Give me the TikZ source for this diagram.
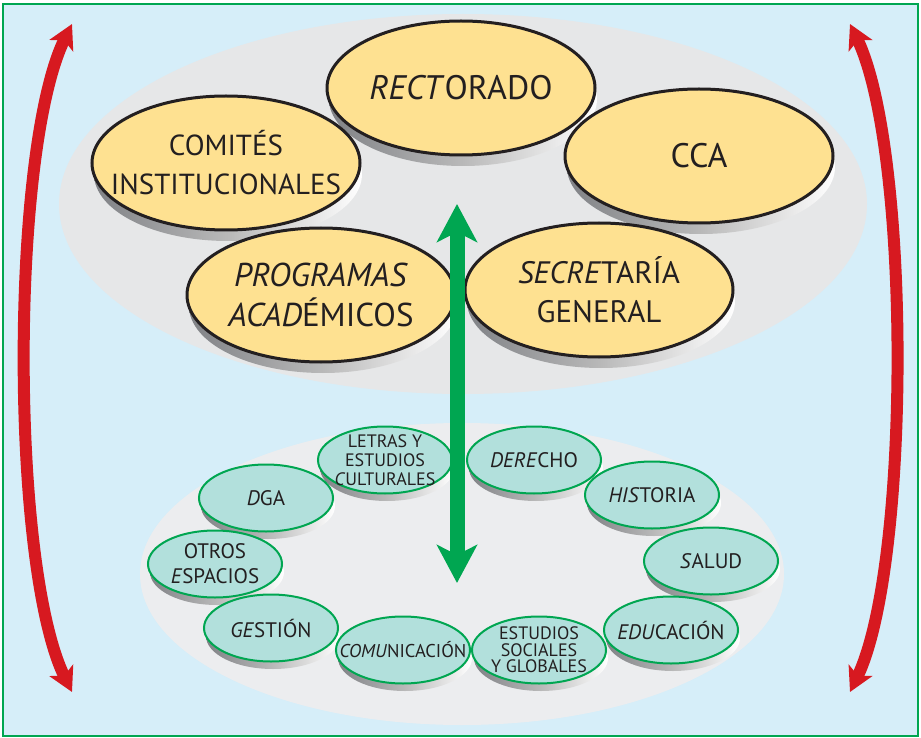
\documentclass[tikz,border=0pt]{standalone}
\usepackage{fontspec}
\setmainfont{PT Sans}
\usetikzlibrary{shapes.geometric,arrows.meta}
\definecolor{bgblue}{RGB}{214,238,249}
\definecolor{graybig}{RGB}{230,231,232}
\definecolor{graysmall}{RGB}{236,237,239}
\definecolor{yellowfill}{RGB}{254,225,145}
\definecolor{tealfill}{RGB}{178,224,220}
\definecolor{greenline}{RGB}{0,166,81}
\definecolor{redarrow}{RGB}{215,25,32}
\definecolor{inkdark}{RGB}{35,31,32}
\definecolor{shadowdark}{RGB}{128,130,134}
\tikzset{
  bigoval/.style={ellipse, draw=inkdark, line width=3pt, fill=yellowfill,
    minimum width=268pt, minimum height=134pt, inner xsep=-80pt, inner ysep=-50pt, align=center,
    text=inkdark, font=\fontsize{32}{39}\selectfont},
  smalloval/.style={ellipse, draw=greenline, line width=2pt, fill=tealfill,
    minimum width=134pt, minimum height=67pt, inner xsep=-40pt, inner ysep=-25pt, align=center,
    text=inkdark, font=\fontsize{21}{21}\selectfont},
  rim/.style={left color=shadowdark, right color=white, middle color=gray!55},
  redarc/.style={draw=redarrow, line width=12pt,
    {Stealth[length=24pt,width=26pt,inset=6pt]}-{Stealth[length=24pt,width=26pt,inset=6pt]}},
  greenarrow/.style={draw=greenline, line width=15pt,
    {Stealth[length=38pt,width=40pt,inset=10pt]}-{Stealth[length=38pt,width=40pt,inset=10pt]}}
}
\begin{document}
\begin{tikzpicture}[x=1pt,y=-1pt]
\useasboundingbox (0,0) rectangle (921,738);
% frame
\path[fill=bgblue, draw=greenline, line width=2pt] (3,4) rectangle (918,736);
% background ovals
\fill[graybig] (463,204) ellipse [x radius=404pt, y radius=190pt];
\fill[graysmall] (462,574) ellipse [x radius=322pt, y radius=151pt];
% centres
\coordinate (cRec) at (461,88);
\coordinate (cCom) at (226,163);
\coordinate (cCca) at (699,156);
\coordinate (cPro) at (321,295);
\coordinate (cSec) at (599,290);
% big rims
\foreach \c in {cRec,cCom,cCca,cPro,cSec}{
  \shade[rim] ([xshift=2pt,yshift=-11pt]\c) ellipse [x radius=134pt, y radius=67pt];
}
\node[bigoval, font=\fontsize{34}{39}\selectfont] (rec) at (cRec) {\textit{RECT}ORADO};
\node[bigoval, font=\fontsize{29}{39}\selectfont] (com) at (cCom) {COMITÉS\\INSTITUCIONALES};
\node[bigoval, font=\fontsize{34}{39}\selectfont] (cca) at (cCca) {CCA};
\node[bigoval, font=\fontsize{33}{40}\selectfont] (pro) at (cPro) {\textit{PROGRAMAS}\\\textit{ACAD}ÉMICOS};
\node[bigoval, font=\fontsize{31}{39}\selectfont] (sec) at (cSec) {\textit{SECRE}TARÍA\\GENERAL};
% small centres
\coordinate (cLet) at (385,460);
\coordinate (cDga) at (266,498);
\coordinate (cOtr) at (215,564);
\coordinate (cGes) at (271,628);
\coordinate (cCmu) at (403,650);
\coordinate (cDer) at (534,460);
\coordinate (cHis) at (652,495);
\coordinate (cSal) at (711,561);
\coordinate (cEdu) at (671,630);
\coordinate (cEst) at (539,650);
\foreach \c in {cLet,cDga,cOtr,cGes,cCmu,cDer,cHis,cSal,cEdu,cEst}{
  \shade[rim] ([xshift=2pt,yshift=-8pt]\c) ellipse [x radius=67pt, y radius=33pt];
}
\node[smalloval, font=\fontsize{18}{19}\selectfont] (let) at (cLet) {LETRAS Y\\ESTUDIOS\\\textit{C}ULTURALES};
\node[smalloval] (dga) at (cDga) {\textit{D}GA};
\node[smalloval, font=\fontsize{21}{25}\selectfont] (otr) at (cOtr) {OTROS\\\textit{E}SPACIOS};
\node[smalloval] (ges) at (cGes) {\textit{GE}STIÓN};
\node[smalloval, font=\fontsize{18.5}{19}\selectfont] (cmu) at (cCmu) {\textit{COMU}NICACIÓN};
\node[smalloval] (der) at (cDer) {\textit{DERE}CHO};
\node[smalloval] (his) at (cHis) {\textit{HIS}TORIA};
\node[smalloval] (sal) at (cSal) {\textit{S}ALUD};
\node[smalloval] (edu) at (cEdu) {\textit{EDU}CACIÓN};
\node[smalloval, font=\fontsize{18}{16.5}\selectfont] (est) at (cEst) {ESTUDIOS\\SOCIALES\\Y GLOBALES};
% green double arrow
\coordinate (gTop) at (457,204);
\coordinate (gBot) at (457,583);
\draw[greenarrow] (gTop) -- (gBot);
% red arcs
\coordinate (lTop) at (72,24);
\coordinate (lBot) at (72,692);
\coordinate (rTop) at (850,24);
\coordinate (rBot) at (850,692);
\draw[redarc] (lTop) .. controls (10,150) and (10,566) .. (lBot);
\draw[redarc] (rTop) .. controls (911,150) and (911,566) .. (rBot);
\end{tikzpicture}
\end{document}
